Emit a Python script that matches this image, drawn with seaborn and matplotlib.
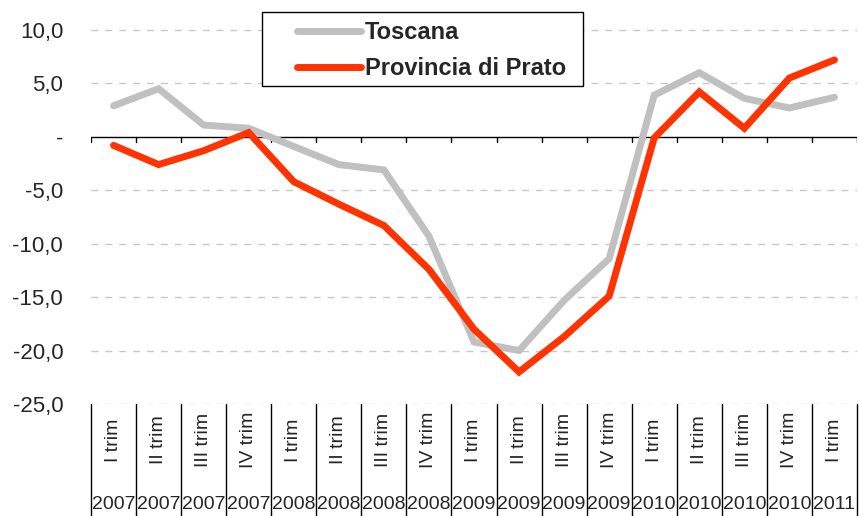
import pandas as pd
import matplotlib
matplotlib.use("Agg")
import matplotlib.pyplot as plt
import matplotlib.transforms as mtrans
from matplotlib.patches import Rectangle
import seaborn as sns

#################### DATA ####################
quarters = ["I trim", "II trim", "III trim", "IV trim"] * 4 + ["I trim"]
years = ["2007"] * 4 + ["2008"] * 4 + ["2009"] * 4 + ["2010"] * 4 + ["2011"]

toscana = [2.9, 4.5, 1.1, 0.8, -0.9, -2.6, -3.1, -9.3, -19.2, -20.0,
           -15.3, -11.4, 3.9, 6.0, 3.6, 2.7, 3.7]
prato = [-0.8, -2.6, -1.3, 0.4, -4.2, -6.3, -8.3, -12.4, -18.0, -22.0,
         -18.7, -14.9, -0.1, 4.2, 0.8, 5.5, 7.2]

yticks = [10, 5, 0, -5, -10, -15, -20, -25]

#################### CONFIG ####################
sns.set_style("white")
plt.rcParams["font.family"] = ["Liberation Sans", "DejaVu Sans"]
plt.rcParams["font.size"] = 14

GREY = "#C0C0C0"
RED = "#FF3300"
palette = {"Toscana": GREY, "Provincia di Prato": RED}

n = len(quarters)
df = pd.DataFrame({
    "pos": list(range(n)) * 2,
    "value": toscana + prato,
    "serie": ["Toscana"] * n + ["Provincia di Prato"] * n,
})

fig = plt.figure(figsize=(8.59, 5.16), dpi=100)
ax = fig.add_axes([91 / 859, 1 - 404 / 516, 766 / 859, (404 - 24.6) / 516])

sns.lineplot(
    data=df, x="pos", y="value", hue="serie", palette=palette,
    hue_order=["Toscana", "Provincia di Prato"], sort=False,
    linewidth=5, solid_capstyle="round", solid_joinstyle="miter",
    legend=False, ax=ax, zorder=3,
)

ax.set_xlim(-0.5, n - 0.5)
ax.set_ylim(-25, 10.5)

# grid
for v in yticks:
    if v != 0:
        ax.axhline(v, color="#C8C8C8", lw=1, ls=(0, (5, 5)), zorder=1)
ax.axhline(0, color="black", lw=1, zorder=2)
# small ticks on the zero line at category boundaries
for b in range(n + 1):
    ax.plot([b - 0.5, b - 0.5], [0, -0.5], color="black", lw=1, zorder=2)

ax.set_yticks(yticks)
ax.set_yticklabels(["-" if v == 0 else f"{v:.1f}".replace(".", ",") for v in yticks])
ax.tick_params(axis="y", length=0, pad=20, labelsize=16)
ax.set_xticks([])
ax.set_xlabel("")
ax.set_ylabel("")
sns.despine(ax=ax, left=True, bottom=True)

# category table under the plot
trans = mtrans.blended_transform_factory(ax.transData, ax.transAxes)
for b in range(n + 1):
    ax.plot([b - 0.5, b - 0.5], [0, -0.32], color="black", lw=1,
            transform=trans, clip_on=False)
for i, (q, y) in enumerate(zip(quarters, years)):
    ax.text(i, -0.095, q, rotation=90, ha="center", va="center",
            fontsize=14, transform=trans)
    ax.text(i, -0.265, y, ha="center", va="center", fontsize=14,
            transform=trans)

# legend (frame drawn separately to get the wide left margin)
fig.patches.append(Rectangle((262 / 859, 1 - 86 / 516), 321 / 859, 74 / 516,
                             transform=fig.transFigure, fc="white",
                             ec="black", lw=1, zorder=5))
lines = ax.get_lines()[:2]
leg = fig.legend(
    lines, ["Toscana", "Provincia di Prato"],
    loc="upper left", bbox_to_anchor=(297 / 859, 1 - 21 / 516),
    frameon=False, handlelength=2.7, handletextpad=0.17, labelspacing=0.55,
    borderpad=0, borderaxespad=0,
    prop={"weight": "bold", "size": 17},
)
for t in leg.get_lines():
    t.set_linewidth(5)
    t.set_solid_capstyle("round")

fig.savefig("out.png", dpi=100, facecolor="white")
